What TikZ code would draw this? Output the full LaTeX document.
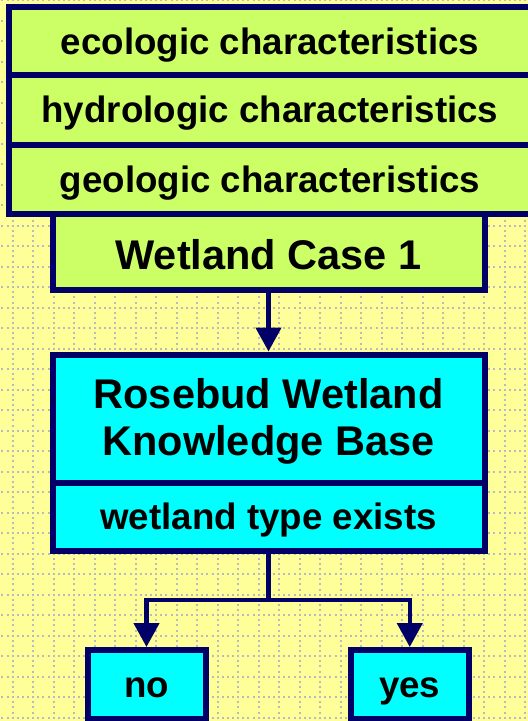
\documentclass[tikz,border=0pt]{standalone}
\usepackage{fontspec}
\setmainfont{Liberation Sans}
\usetikzlibrary{arrows.meta, positioning}
\definecolor{figback}{RGB}{255,255,153}
\definecolor{figdots}{RGB}{186,186,194}
\definecolor{figborder}{RGB}{0,0,102}
\definecolor{figgreen}{RGB}{204,255,102}
\definecolor{figcyan}{RGB}{0,255,255}
\tikzset{
    box/.style={draw=figborder, line width=6pt, inner sep=0pt,
        font=\bfseries\fontsize{36.7}{44}\selectfont, text height=26pt, text depth=0pt},
    greenbox/.style={box, fill=figgreen},
    cyanbox/.style={box, fill=figcyan},
    bigtext/.style={font=\bfseries\fontsize{41.5}{47}\selectfont, text height=34pt, text depth=0pt},
    gridline/.style={figdots, line width=2pt, dash pattern=on 2pt off 3.125pt},
}
\tikzstyle{arrow} = [-{Triangle[length=24pt, width=25pt]}, line width=4.5pt, draw=figborder]
\tikzstyle{link} = [line width=4.5pt, draw=figborder]

\begin{document}
\begin{tikzpicture}[x=1pt, y=-1pt]
    \useasboundingbox (0,0) rectangle (528,721);
    \clip (0,0) rectangle (528,721);
    \fill[figback] (0,0) rectangle (528,721);
    % dotted background grid
    \foreach \k in {0,...,25}
        \draw[gridline] ({12.7+20.5*\k},-0.8) -- ({12.7+20.5*\k},722);
    \foreach \k in {0,...,35}
        \draw[gridline] (-8.8,{0.2+20.5*\k}) -- (530,{0.2+20.5*\k});

    % case description
    \node[greenbox, minimum width=522pt, minimum height=68pt] (eco) at (270,41)
        {ecologic characteristics};
    \node[greenbox, minimum width=522pt, minimum height=69.5pt] (hydro) at (270,109.75)
        {hydrologic characteristics};
    \node[greenbox, minimum width=522pt, minimum height=69.5pt] (geo) at (270,179.25)
        {geologic characteristics};
    \node[greenbox, bigtext, minimum width=432pt, minimum height=76pt] (case) at (268.5,252)
        {Wetland Case 1};

    % knowledge base and answer
    \node[cyanbox, bigtext, align=center, text height=73pt, text depth=0pt,
        minimum width=432pt, minimum height=128pt] (kb) at (268.5,418.5)
        {Rosebud Wetland\\Knowledge Base};
    \node[cyanbox, minimum width=432pt, minimum height=68.5pt] (wtype) at (268.5,516.75)
        {wetland type exists};
    \node[cyanbox, minimum width=118pt, minimum height=69pt] (no) at (146.5,684.5) {no};
    \node[cyanbox, minimum width=118.5pt, minimum height=69pt] (yes) at (409.75,684.5) {yes};

    \coordinate (fork) at (268.5,600);
    \draw[arrow] (case) -- (kb);
    \draw[link] (wtype) -- (fork);
    \draw[arrow] (fork) -| (no);
    \draw[arrow] (fork) -| (yes);
\end{tikzpicture}
\end{document}
